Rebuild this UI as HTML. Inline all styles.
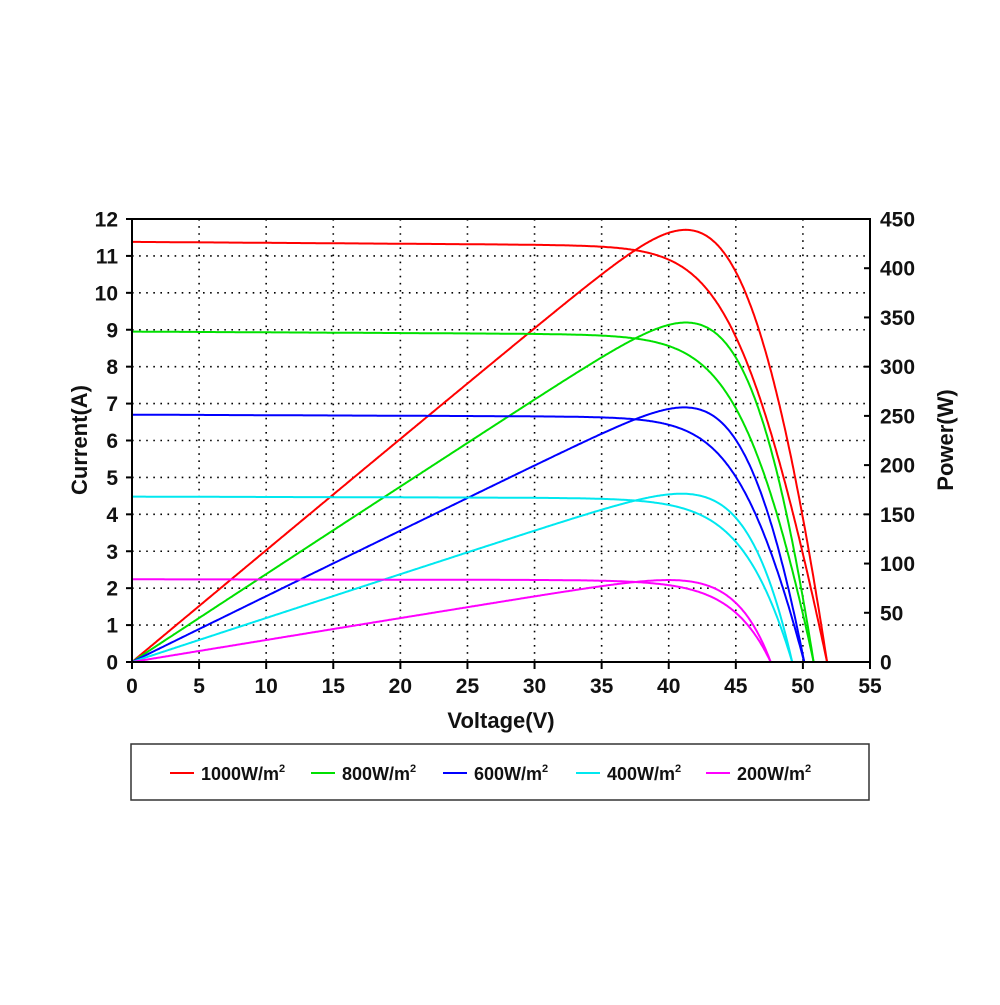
<!DOCTYPE html>
<html><head><meta charset="utf-8"><style>
body{margin:0;background:#fff}
svg text{font-family:"Liberation Sans",Arial,sans-serif;font-weight:bold;fill:#111}
</style></head><body>
<svg id="s" width="1000" height="1000" xmlns="http://www.w3.org/2000/svg"></svg>
<script>
const s=document.getElementById('s');
const L=132,R=870,T=219,B=662;
const X=v=>L+v*(R-L)/55, YA=a=>B-a*(B-T)/12, YP=p=>B-p*(B-T)/450;
let h='';
for(let i=1;i<12;i++)h+=`<line x1="${L}" x2="${R}" y1="${YA(i)}" y2="${YA(i)}" stroke="#000" stroke-width="1.6" stroke-dasharray="1.6,5.5"/>`;
for(let i=1;i<11;i++)h+=`<line x1="${X(i*5)}" x2="${X(i*5)}" y1="${T}" y2="${B}" stroke="#000" stroke-width="1.6" stroke-dasharray="1.6,5.5"/>`;
const C=[['#ff0000',11.38,51.8,41.3,443],['#00e000',8.95,50.8,41.3,348],['#0000ff',6.7,50.1,41.2,261],['#00e8f0',4.48,49.2,41,172.5],['#ff00ff',2.24,47.6,40,84]];
function model(Isc,Voc,a,Rs){
 const I0=Isc/(Math.exp(Voc/a)-1);
 const f=I=>a*Math.log((Isc-I)/I0+1)-I*Rs;
 const pts=[];
 for(let k=0;k<=600;k++){const V=Voc*k/600;
  let lo=0,hi=Isc;
  for(let j=0;j<50;j++){const m=(lo+hi)/2; if(f(m)>V)lo=m;else hi=m;}
  pts.push([V,(lo+hi)/2]);}
 return pts;
}
for(const [c,Isc,Voc,Vmp,Pmp] of C){
 const Imp=Pmp/Vmp;let best=null;
 for(let a=0.5;a<6;a+=0.05){
  const I0=Isc/(Math.exp(Voc/a)-1);
  const Rs=(a*Math.log((Isc-Imp)/I0+1)-Vmp)/Imp; if(Rs<0)continue;
  const pts=model(Isc,Voc,a,Rs);
  let pm=0,vm=0;for(const [v,i] of pts)if(v*i>pm){pm=v*i;vm=v;}
  const err=Math.abs(vm-Vmp)+Math.abs(pm-Pmp)/20;
  if(!best||err<best.err)best={err,a,Rs};
 }
 const pts=model(Isc,Voc,best.a,best.Rs);
 const sl=0.0025*Isc/11.38;
 let p1='',p2='';
 for(const [v,i0] of pts){const i=i0-sl*v*(i0/Isc);
  p1+=(p1?'L':'M')+X(v).toFixed(1)+','+YA(i).toFixed(1);
  p2+=(p2?'L':'M')+X(v).toFixed(1)+','+YP(i*v).toFixed(1);}
 h+=`<path d="${p1}" fill="none" stroke="${c}" stroke-width="2"/><path d="${p2}" fill="none" stroke="${c}" stroke-width="2"/>`;
}
h+=`<rect x="${L}" y="${T}" width="${R-L}" height="${B-T}" fill="none" stroke="#000" stroke-width="2"/>`;
for(let i=0;i<=12;i++){const y=YA(i);h+=`<line x1="${L-6}" x2="${L}" y1="${y}" y2="${y}" stroke="#000" stroke-width="2"/><text x="${L-14}" y="${y+7.5}" font-size="21" text-anchor="end">${i}</text>`;}
for(let i=0;i<=9;i++){const y=YP(i*50);h+=`<line x1="${R-6}" x2="${R}" y1="${y}" y2="${y}" stroke="#000" stroke-width="2"/><text x="${R+10}" y="${y+7.5}" font-size="21">${i*50}</text>`;}
for(let i=0;i<=11;i++){const x=X(i*5);h+=`<line x1="${x}" x2="${x}" y1="${B}" y2="${B+7}" stroke="#000" stroke-width="2"/><text x="${x}" y="${B+31}" font-size="21" text-anchor="middle">${i*5}</text>`;}
h+=`<text x="501" y="728" font-size="22" text-anchor="middle">Voltage(V)</text>`;
h+=`<text transform="translate(87,440) rotate(-90)" font-size="22" text-anchor="middle">Current(A)</text>`;
h+=`<text transform="translate(953,440) rotate(-90)" font-size="22" text-anchor="middle">Power(W)</text>`;
h+=`<rect x="131" y="744" width="738" height="56" fill="none" stroke="#333" stroke-width="1.5"/>`;
const lg=[['#ff0000',170,'1000'],['#00e000',311,'800'],['#0000ff',443,'600'],['#00e8f0',576,'400'],['#ff00ff',706,'200']];
for(const [c,x,t] of lg){h+=`<line x1="${x}" x2="${x+24}" y1="773" y2="773" stroke="${c}" stroke-width="2"/><text x="${x+31}" y="780" font-size="18">${t}W/m<tspan font-size="11" dy="-8">2</tspan></text>`;}
s.innerHTML=h;
</script>
</body></html>
